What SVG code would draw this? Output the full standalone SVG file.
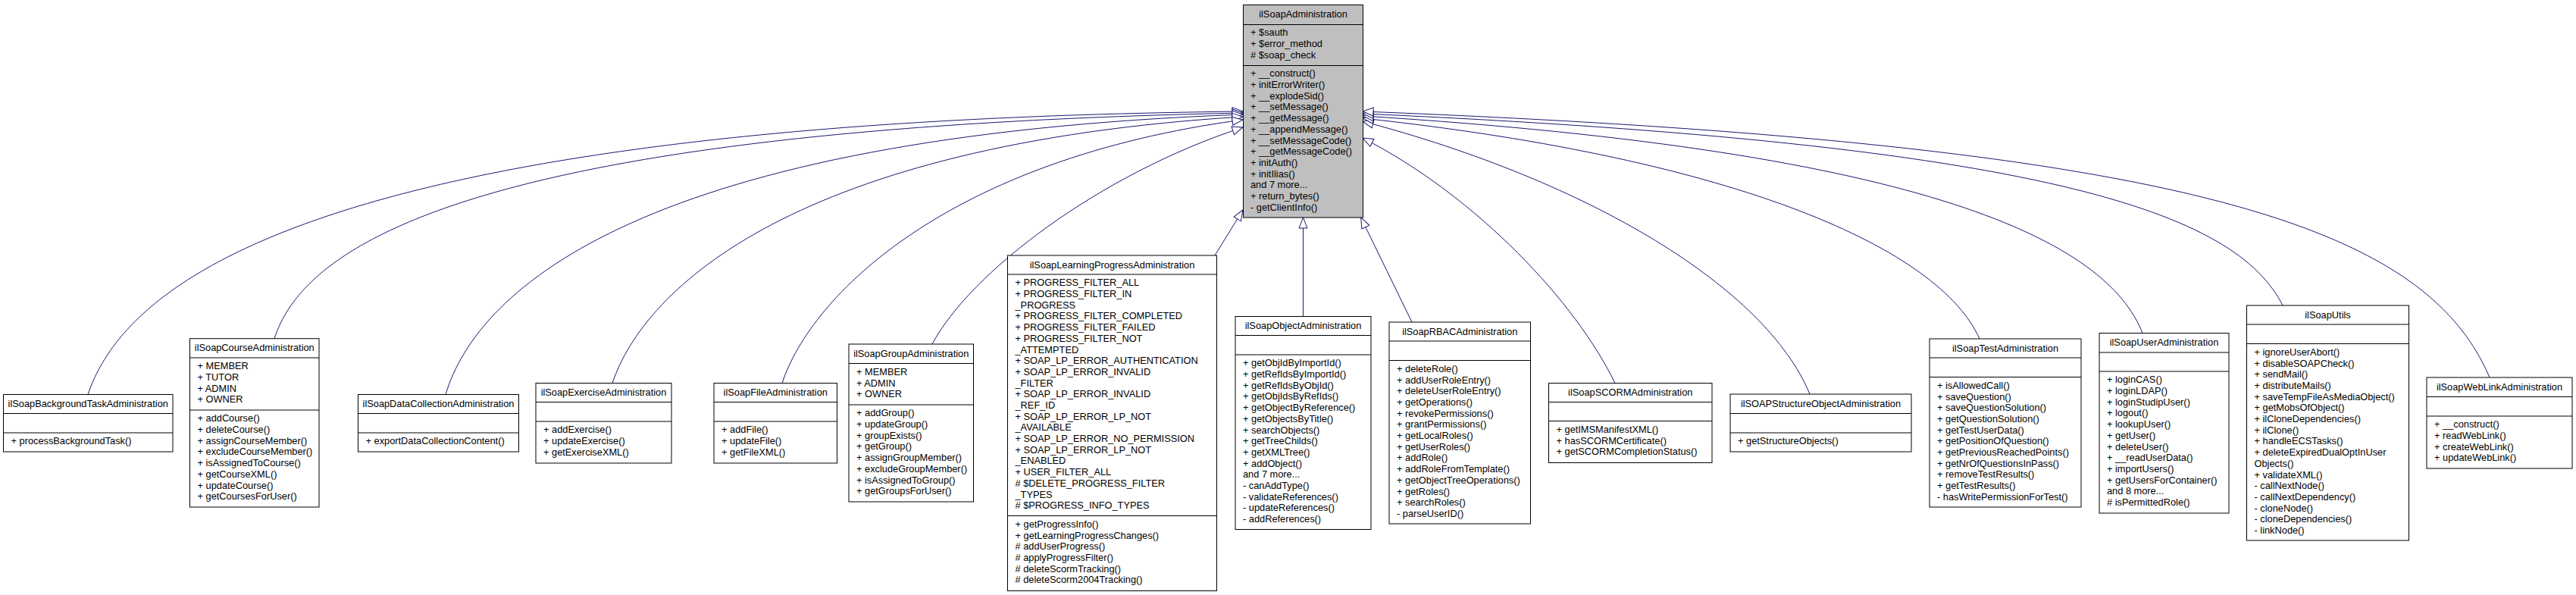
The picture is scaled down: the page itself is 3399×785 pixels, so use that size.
<svg xmlns="http://www.w3.org/2000/svg" width="3399" height="785" viewBox="0 0 3399 785">
<style>
.bg{fill:#ffffff}
.box{fill:#ffffff;stroke:#000000;stroke-width:1}
.base{fill:#bfbfbf;stroke:#000000;stroke-width:1}
.sep{stroke:#000000;stroke-width:1}
.h{font-family:"Liberation Sans",Arial,sans-serif;font-size:12.8px;fill:#000000;text-anchor:middle}
.t{font-family:"Liberation Sans",Arial,sans-serif;font-size:12.8px;fill:#000000}
.e{fill:none;stroke:#191970;stroke-width:1;marker-end:url(#inh)}
</style>
<defs>
<marker id="inh" markerUnits="userSpaceOnUse" markerWidth="16" markerHeight="14" refX="14" refY="6" orient="auto" viewBox="0 0 16 12" overflow="visible">
<path d="M0,0.5 L14,6 L0,11.5 Z" fill="#ffffff" stroke="#191970" stroke-width="1"/>
</marker>
</defs>
<rect class="bg" x="0" y="0" width="3399" height="785"/>

<g id="connectors">
<path class="e" d="M116,520.5 C170,360 450,160 1640,147"/>
<path class="e" d="M362,446.7 C400,330 600,170 1640,149"/>
<path class="e" d="M588,520.5 C630,380 850,180 1640,151"/>
<path class="e" d="M808,505.5 C850,380 1050,190 1640,154"/>
<path class="e" d="M1032,505.5 C1070,390 1250,210 1640,158"/>
<path class="e" d="M1230,454 C1280,360 1450,230 1640,168"/>
<path class="e" d="M1603,337 L1640,277"/>
<path class="e" d="M1719.5,417.5 L1719.5,287"/>
<path class="e" d="M1863,425 L1795.7,287"/>
<path class="e" d="M2131,505.5 C2080,400 1950,260 1798,182"/>
<path class="e" d="M2388,520 C2330,380 2100,240 1798,160"/>
<path class="e" d="M2612,447 C2560,330 2300,210 1798,156"/>
<path class="e" d="M2827,439.5 C2780,320 2550,200 1798,153"/>
<path class="e" d="M3012,403 C2950,280 2700,190 1798,150"/>
<path class="e" d="M3285,498 C3200,300 2900,190 1798,147"/>
</g>

<g id="ilSoapAdministration">
<rect class="base" x="1640.5" y="6.5" width="158" height="280.5"/>
<line class="sep" x1="1640.5" y1="32.5" x2="1798.5" y2="32.5"/>
<line class="sep" x1="1640.5" y1="86.5" x2="1798.5" y2="86.5"/>
<text class="h" x="1719.5" y="22.5">ilSoapAdministration</text>
<text class="t" x="1650" y="47.3">+ $sauth<tspan x="1650" dy="14.7">+ $error_method</tspan><tspan x="1650" dy="14.7"># $soap_check</tspan></text>
<text class="t" x="1650" y="101.3">+ __construct()<tspan x="1650" dy="14.7">+ initErrorWriter()</tspan><tspan x="1650" dy="14.7">+ __explodeSid()</tspan><tspan x="1650" dy="14.7">+ __setMessage()</tspan><tspan x="1650" dy="14.7">+ __getMessage()</tspan><tspan x="1650" dy="14.7">+ __appendMessage()</tspan><tspan x="1650" dy="14.7">+ __setMessageCode()</tspan><tspan x="1650" dy="14.7">+ __getMessageCode()</tspan><tspan x="1650" dy="14.7">+ initAuth()</tspan><tspan x="1650" dy="14.7">+ initIlias()</tspan><tspan x="1650" dy="14.7">and 7 more...</tspan><tspan x="1650" dy="14.7">+ return_bytes()</tspan><tspan x="1650" dy="14.7">- getClientInfo()</tspan></text>
</g>

<g id="ilSoapBackgroundTaskAdministration">
<rect class="box" x="4.5" y="520.5" width="223.5" height="75.5"/>
<line class="sep" x1="4.5" y1="545.5" x2="228" y2="545.5"/>
<line class="sep" x1="4.5" y1="571" x2="228" y2="571"/>
<text class="h" x="116.25" y="537">ilSoapBackgroundTaskAdministration</text>
<text class="t" x="14.5" y="586.3">+ processBackgroundTask()</text>
</g>

<g id="ilSoapCourseAdministration">
<rect class="box" x="250.5" y="446.7" width="170.5" height="222.3"/>
<line class="sep" x1="250.5" y1="472" x2="421" y2="472"/>
<line class="sep" x1="250.5" y1="541" x2="421" y2="541"/>
<text class="h" x="335.75" y="463.2">ilSoapCourseAdministration</text>
<text class="t" x="260.5" y="487.3">+ MEMBER<tspan x="260.5" dy="14.7">+ TUTOR</tspan><tspan x="260.5" dy="14.7">+ ADMIN</tspan><tspan x="260.5" dy="14.7">+ OWNER</tspan></text>
<text class="t" x="260.5" y="556.3">+ addCourse()<tspan x="260.5" dy="14.7">+ deleteCourse()</tspan><tspan x="260.5" dy="14.7">+ assignCourseMember()</tspan><tspan x="260.5" dy="14.7">+ excludeCourseMember()</tspan><tspan x="260.5" dy="14.7">+ isAssignedToCourse()</tspan><tspan x="260.5" dy="14.7">+ getCourseXML()</tspan><tspan x="260.5" dy="14.7">+ updateCourse()</tspan><tspan x="260.5" dy="14.7">+ getCoursesForUser()</tspan></text>
</g>

<g id="ilSoapDataCollectionAdministration">
<rect class="box" x="472.5" y="520.5" width="212" height="75.5"/>
<line class="sep" x1="472.5" y1="545.5" x2="684.5" y2="545.5"/>
<line class="sep" x1="472.5" y1="571" x2="684.5" y2="571"/>
<text class="h" x="578.5" y="537">ilSoapDataCollectionAdministration</text>
<text class="t" x="482.5" y="586.3">+ exportDataCollectionContent()</text>
</g>

<g id="ilSoapExerciseAdministration">
<rect class="box" x="707" y="505.5" width="179" height="105.5"/>
<line class="sep" x1="707" y1="530.5" x2="886" y2="530.5"/>
<line class="sep" x1="707" y1="556" x2="886" y2="556"/>
<text class="h" x="796.5" y="522">ilSoapExerciseAdministration</text>
<text class="t" x="717" y="571.3">+ addExercise()<tspan x="717" dy="14.7">+ updateExercise()</tspan><tspan x="717" dy="14.7">+ getExerciseXML()</tspan></text>
</g>

<g id="ilSoapFileAdministration">
<rect class="box" x="942" y="505.5" width="162.5" height="105.5"/>
<line class="sep" x1="942" y1="530.5" x2="1104.5" y2="530.5"/>
<line class="sep" x1="942" y1="556" x2="1104.5" y2="556"/>
<text class="h" x="1023.25" y="522">ilSoapFileAdministration</text>
<text class="t" x="952" y="571.3">+ addFile()<tspan x="952" dy="14.7">+ updateFile()</tspan><tspan x="952" dy="14.7">+ getFileXML()</tspan></text>
</g>

<g id="ilSoapGroupAdministration">
<rect class="box" x="1120" y="454" width="164.5" height="208"/>
<line class="sep" x1="1120" y1="479.5" x2="1284.5" y2="479.5"/>
<line class="sep" x1="1120" y1="534" x2="1284.5" y2="534"/>
<text class="h" x="1202.25" y="470.5">ilSoapGroupAdministration</text>
<text class="t" x="1130" y="494.8">+ MEMBER<tspan x="1130" dy="14.7">+ ADMIN</tspan><tspan x="1130" dy="14.7">+ OWNER</tspan></text>
<text class="t" x="1130" y="549.3">+ addGroup()<tspan x="1130" dy="14.7">+ updateGroup()</tspan><tspan x="1130" dy="14.7">+ groupExists()</tspan><tspan x="1130" dy="14.7">+ getGroup()</tspan><tspan x="1130" dy="14.7">+ assignGroupMember()</tspan><tspan x="1130" dy="14.7">+ excludeGroupMember()</tspan><tspan x="1130" dy="14.7">+ isAssignedToGroup()</tspan><tspan x="1130" dy="14.7">+ getGroupsForUser()</tspan></text>
</g>

<g id="ilSoapLearningProgressAdministration">
<rect class="box" x="1329.5" y="337" width="276" height="442.5"/>
<line class="sep" x1="1329.5" y1="362" x2="1605.5" y2="362"/>
<line class="sep" x1="1329.5" y1="680.5" x2="1605.5" y2="680.5"/>
<text class="h" x="1467.5" y="353.5">ilSoapLearningProgressAdministration</text>
<text class="t" x="1339.5" y="377.3">+ PROGRESS_FILTER_ALL<tspan x="1339.5" dy="14.7">+ PROGRESS_FILTER_IN</tspan><tspan x="1339.5" dy="14.7">_PROGRESS</tspan><tspan x="1339.5" dy="14.7">+ PROGRESS_FILTER_COMPLETED</tspan><tspan x="1339.5" dy="14.7">+ PROGRESS_FILTER_FAILED</tspan><tspan x="1339.5" dy="14.7">+ PROGRESS_FILTER_NOT</tspan><tspan x="1339.5" dy="14.7">_ATTEMPTED</tspan><tspan x="1339.5" dy="14.7">+ SOAP_LP_ERROR_AUTHENTICATION</tspan><tspan x="1339.5" dy="14.7">+ SOAP_LP_ERROR_INVALID</tspan><tspan x="1339.5" dy="14.7">_FILTER</tspan><tspan x="1339.5" dy="14.7">+ SOAP_LP_ERROR_INVALID</tspan><tspan x="1339.5" dy="14.7">_REF_ID</tspan><tspan x="1339.5" dy="14.7">+ SOAP_LP_ERROR_LP_NOT</tspan><tspan x="1339.5" dy="14.7">_AVAILABLE</tspan><tspan x="1339.5" dy="14.7">+ SOAP_LP_ERROR_NO_PERMISSION</tspan><tspan x="1339.5" dy="14.7">+ SOAP_LP_ERROR_LP_NOT</tspan><tspan x="1339.5" dy="14.7">_ENABLED</tspan><tspan x="1339.5" dy="14.7">+ USER_FILTER_ALL</tspan><tspan x="1339.5" dy="14.7"># $DELETE_PROGRESS_FILTER</tspan><tspan x="1339.5" dy="14.7">_TYPES</tspan><tspan x="1339.5" dy="14.7"># $PROGRESS_INFO_TYPES</tspan></text>
<text class="t" x="1339.5" y="695.8">+ getProgressInfo()<tspan x="1339.5" dy="14.7">+ getLearningProgressChanges()</tspan><tspan x="1339.5" dy="14.7"># addUserProgress()</tspan><tspan x="1339.5" dy="14.7"># applyProgressFilter()</tspan><tspan x="1339.5" dy="14.7"># deleteScormTracking()</tspan><tspan x="1339.5" dy="14.7"># deleteScorm2004Tracking()</tspan></text>
</g>

<g id="ilSoapObjectAdministration">
<rect class="box" x="1630" y="417.5" width="179" height="281"/>
<line class="sep" x1="1630" y1="442.5" x2="1809" y2="442.5"/>
<line class="sep" x1="1630" y1="468" x2="1809" y2="468"/>
<text class="h" x="1719.5" y="434">ilSoapObjectAdministration</text>
<text class="t" x="1640" y="483.3">+ getObjIdByImportId()<tspan x="1640" dy="14.7">+ getRefIdsByImportId()</tspan><tspan x="1640" dy="14.7">+ getRefIdsByObjId()</tspan><tspan x="1640" dy="14.7">+ getObjIdsByRefIds()</tspan><tspan x="1640" dy="14.7">+ getObjectByReference()</tspan><tspan x="1640" dy="14.7">+ getObjectsByTitle()</tspan><tspan x="1640" dy="14.7">+ searchObjects()</tspan><tspan x="1640" dy="14.7">+ getTreeChilds()</tspan><tspan x="1640" dy="14.7">+ getXMLTree()</tspan><tspan x="1640" dy="14.7">+ addObject()</tspan><tspan x="1640" dy="14.7">and 7 more...</tspan><tspan x="1640" dy="14.7">- canAddType()</tspan><tspan x="1640" dy="14.7">- validateReferences()</tspan><tspan x="1640" dy="14.7">- updateReferences()</tspan><tspan x="1640" dy="14.7">- addReferences()</tspan></text>
</g>

<g id="ilSoapRBACAdministration">
<rect class="box" x="1833" y="425" width="186.5" height="266"/>
<line class="sep" x1="1833" y1="450" x2="2019.5" y2="450"/>
<line class="sep" x1="1833" y1="475.5" x2="2019.5" y2="475.5"/>
<text class="h" x="1926.25" y="441.5">ilSoapRBACAdministration</text>
<text class="t" x="1843" y="490.8">+ deleteRole()<tspan x="1843" dy="14.7">+ addUserRoleEntry()</tspan><tspan x="1843" dy="14.7">+ deleteUserRoleEntry()</tspan><tspan x="1843" dy="14.7">+ getOperations()</tspan><tspan x="1843" dy="14.7">+ revokePermissions()</tspan><tspan x="1843" dy="14.7">+ grantPermissions()</tspan><tspan x="1843" dy="14.7">+ getLocalRoles()</tspan><tspan x="1843" dy="14.7">+ getUserRoles()</tspan><tspan x="1843" dy="14.7">+ addRole()</tspan><tspan x="1843" dy="14.7">+ addRoleFromTemplate()</tspan><tspan x="1843" dy="14.7">+ getObjectTreeOperations()</tspan><tspan x="1843" dy="14.7">+ getRoles()</tspan><tspan x="1843" dy="14.7">+ searchRoles()</tspan><tspan x="1843" dy="14.7">- parseUserID()</tspan></text>
</g>

<g id="ilSoapSCORMAdministration">
<rect class="box" x="2043.5" y="505.5" width="215.5" height="105"/>
<line class="sep" x1="2043.5" y1="530.5" x2="2259" y2="530.5"/>
<line class="sep" x1="2043.5" y1="555.5" x2="2259" y2="555.5"/>
<text class="h" x="2151.25" y="522">ilSoapSCORMAdministration</text>
<text class="t" x="2053.5" y="570.8">+ getIMSManifestXML()<tspan x="2053.5" dy="14.7">+ hasSCORMCertificate()</tspan><tspan x="2053.5" dy="14.7">+ getSCORMCompletionStatus()</tspan></text>
</g>

<g id="ilSOAPStructureObjectAdministration">
<rect class="box" x="2283" y="520" width="239" height="76"/>
<line class="sep" x1="2283" y1="545.5" x2="2522" y2="545.5"/>
<line class="sep" x1="2283" y1="571" x2="2522" y2="571"/>
<text class="h" x="2402.5" y="536.5">ilSOAPStructureObjectAdministration</text>
<text class="t" x="2293" y="586.3">+ getStructureObjects()</text>
</g>

<g id="ilSoapTestAdministration">
<rect class="box" x="2546" y="447" width="200" height="222"/>
<line class="sep" x1="2546" y1="472" x2="2746" y2="472"/>
<line class="sep" x1="2546" y1="497.5" x2="2746" y2="497.5"/>
<text class="h" x="2646" y="463.5">ilSoapTestAdministration</text>
<text class="t" x="2556" y="512.8">+ isAllowedCall()<tspan x="2556" dy="14.7">+ saveQuestion()</tspan><tspan x="2556" dy="14.7">+ saveQuestionSolution()</tspan><tspan x="2556" dy="14.7">+ getQuestionSolution()</tspan><tspan x="2556" dy="14.7">+ getTestUserData()</tspan><tspan x="2556" dy="14.7">+ getPositionOfQuestion()</tspan><tspan x="2556" dy="14.7">+ getPreviousReachedPoints()</tspan><tspan x="2556" dy="14.7">+ getNrOfQuestionsInPass()</tspan><tspan x="2556" dy="14.7">+ removeTestResults()</tspan><tspan x="2556" dy="14.7">+ getTestResults()</tspan><tspan x="2556" dy="14.7">- hasWritePermissionForTest()</tspan></text>
</g>

<g id="ilSoapUserAdministration">
<rect class="box" x="2770" y="439.5" width="171" height="237.5"/>
<line class="sep" x1="2770" y1="465" x2="2941" y2="465"/>
<line class="sep" x1="2770" y1="490" x2="2941" y2="490"/>
<text class="h" x="2855.5" y="456">ilSoapUserAdministration</text>
<text class="t" x="2780" y="505.3">+ loginCAS()<tspan x="2780" dy="14.7">+ loginLDAP()</tspan><tspan x="2780" dy="14.7">+ loginStudipUser()</tspan><tspan x="2780" dy="14.7">+ logout()</tspan><tspan x="2780" dy="14.7">+ lookupUser()</tspan><tspan x="2780" dy="14.7">+ getUser()</tspan><tspan x="2780" dy="14.7">+ deleteUser()</tspan><tspan x="2780" dy="14.7">+ __readUserData()</tspan><tspan x="2780" dy="14.7">+ importUsers()</tspan><tspan x="2780" dy="14.7">+ getUsersForContainer()</tspan><tspan x="2780" dy="14.7">and 8 more...</tspan><tspan x="2780" dy="14.7"># isPermittedRole()</tspan></text>
</g>

<g id="ilSoapUtils">
<rect class="box" x="2964.5" y="403" width="214" height="310"/>
<line class="sep" x1="2964.5" y1="428" x2="3178.5" y2="428"/>
<line class="sep" x1="2964.5" y1="453.5" x2="3178.5" y2="453.5"/>
<text class="h" x="3071.5" y="419.5">ilSoapUtils</text>
<text class="t" x="2974.5" y="468.8">+ ignoreUserAbort()<tspan x="2974.5" dy="14.7">+ disableSOAPCheck()</tspan><tspan x="2974.5" dy="14.7">+ sendMail()</tspan><tspan x="2974.5" dy="14.7">+ distributeMails()</tspan><tspan x="2974.5" dy="14.7">+ saveTempFileAsMediaObject()</tspan><tspan x="2974.5" dy="14.7">+ getMobsOfObject()</tspan><tspan x="2974.5" dy="14.7">+ ilCloneDependencies()</tspan><tspan x="2974.5" dy="14.7">+ ilClone()</tspan><tspan x="2974.5" dy="14.7">+ handleECSTasks()</tspan><tspan x="2974.5" dy="14.7">+ deleteExpiredDualOptInUser</tspan><tspan x="2974.5" dy="14.7">Objects()</tspan><tspan x="2974.5" dy="14.7">+ validateXML()</tspan><tspan x="2974.5" dy="14.7">- callNextNode()</tspan><tspan x="2974.5" dy="14.7">- callNextDependency()</tspan><tspan x="2974.5" dy="14.7">- cloneNode()</tspan><tspan x="2974.5" dy="14.7">- cloneDependencies()</tspan><tspan x="2974.5" dy="14.7">- linkNode()</tspan></text>
</g>

<g id="ilSoapWebLinkAdministration">
<rect class="box" x="3202" y="498" width="192" height="120"/>
<line class="sep" x1="3202" y1="523.5" x2="3394" y2="523.5"/>
<line class="sep" x1="3202" y1="549" x2="3394" y2="549"/>
<text class="h" x="3298" y="514.5">ilSoapWebLinkAdministration</text>
<text class="t" x="3212" y="564.3">+ __construct()<tspan x="3212" dy="14.7">+ readWebLink()</tspan><tspan x="3212" dy="14.7">+ createWebLink()</tspan><tspan x="3212" dy="14.7">+ updateWebLink()</tspan></text>
</g>
</svg>
